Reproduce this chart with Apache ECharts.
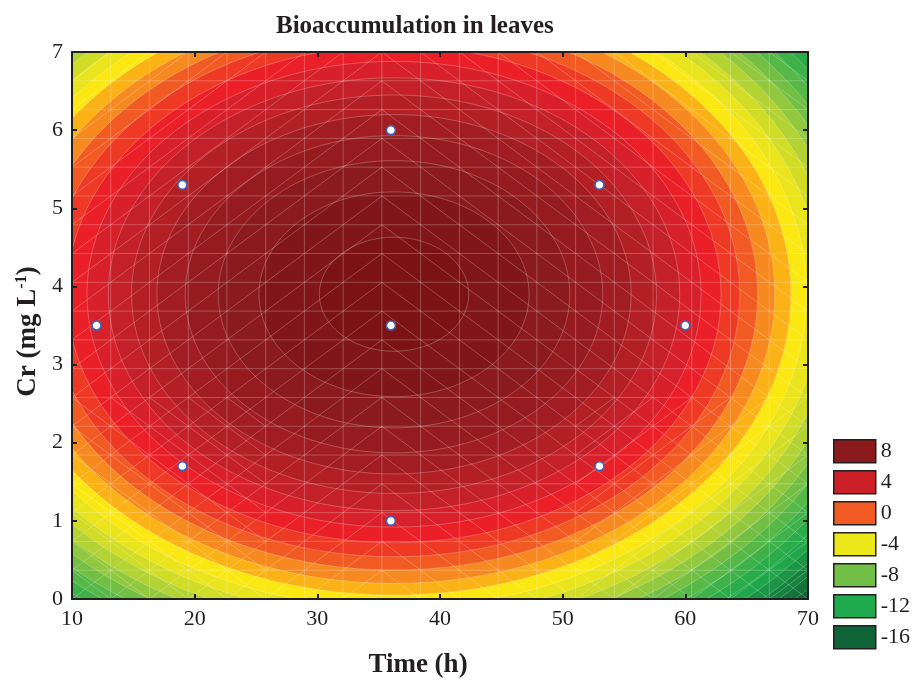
<!DOCTYPE html>
<html><head><meta charset="utf-8">
<script src="https://cdn.jsdelivr.net/npm/echarts/dist/echarts.min.js"></script>
<style>html,body{margin:0;padding:0;background:#fff}#c{width:915px;height:684px}</style>
</head><body><div id="c"></div>
<script>
// ---- data ----
const contourCenter = [36.25, 3.9];            // centre of the fitted surface (Time h, Cr mg/L)
const contourLevels = [-16,-15,-14,-13,-12,-11,-10,-9,-8,-7,-6,-5,-4,-3,-2,-1,0,1,2,3,4,5,6,7,8,9];
const radiusTime = [46.28,45.37,44.42,43.47,42.49,41.49,40.46,39.40,38.32,37.21,36.06,34.87,33.64,32.36,31.04,29.65,28.19,26.66,25.03,23.29,21.40,19.33,17.02,14.33,11.01,6.09];
const radiusCr   = [5.51,5.40,5.29,5.18,5.06,4.94,4.82,4.69,4.56,4.43,4.29,4.15,4.01,3.85,3.70,3.53,3.36,3.18,2.98,2.77,2.55,2.30,2.03,1.71,1.31,0.73];
const designTime = [12,19,19,36,36,36,53,53,60];
const designCr   = [3.5,5.3,1.7,6,3.5,1,5.3,1.7,3.5];
const legendLabels = ['8','4','0','-4','-8','-12','-16'];
const xTickMin = 10, xTickMax = 70, xTickStep = 10;
const yTickMin = 0, yTickMax = 7, yTickStep = 1;

// ---- styling ----
const bandColors = ['#12733B','#168240','#1B9446','#1FA64B','#2BAC4A','#3EB249','#56B847','#72BF44','#92C83E','#B3D233','#D0DC25','#E9E41B','#FBE812','#FBB217','#F6891F','#F15A22','#EE3A24','#EB1F27','#D8202A','#C3202A','#B21F25','#A11D22','#951B1F','#8A1A1E','#81161A','#7B1315'];
const outsideColor = '#0F6437';
const legendColors = ['#8B1A1D','#CB2027','#F15A22','#EBE719','#71BF44','#1EAA4D','#0F6437'];
const serif = '"Liberation Serif","Times New Roman",serif';
const ink = '#231F20';
const meshCells = 19;

const chart = echarts.init(document.getElementById('c'), null, {renderer:'canvas'});

const ellipseData = contourLevels.map((lv,i)=>[contourCenter[0], contourCenter[1], radiusTime[i], radiusCr[i], lv]);

const meshData = [];
for (let i=0;i<meshCells;i++){
  for (let j=0;j<meshCells;j++){
    const x0 = xTickMin + (xTickMax-xTickMin)*i/meshCells, x1 = xTickMin + (xTickMax-xTickMin)*(i+1)/meshCells;
    const y0 = yTickMin + (yTickMax-yTickMin)*j/meshCells, y1 = yTickMin + (yTickMax-yTickMin)*(j+1)/meshCells;
    const xm = (x0+x1)/2, ym=(y0+y1)/2;
    const dir = xm < contourCenter[0] ? 1 : -1;
    const both = (ym < 2.4 && (xm < 25 || xm > 50)) ? 1 : 0;
    meshData.push([x0,y0,x1,y1,dir,both]);
  }
}
const meshStyle = {stroke:'rgba(255,255,255,0.3)', lineWidth:0.8};

function frameAxis(extra){
  return Object.assign({
    type:'value', z:10,
    axisLine:{show:true, onZero:false, lineStyle:{color:ink, width:2}},
    axisTick:{show:true, inside:true, length:5, lineStyle:{color:ink, width:2}},
    splitLine:{show:false},
  }, extra);
}

const legendSeries = legendLabels.map((n,i)=>({name:n, type:'scatter', data:[], itemStyle:{color:legendColors[i], opacity:1}}));

chart.setOption({
  animation:false,
  backgroundColor:'#fff',
  title:{text:'Bioaccumulation in leaves', left:271, top:9,
    textStyle:{fontFamily:serif, fontWeight:'bold', fontSize:25, color:ink}},
  grid:{left:72, right:107, top:52, bottom:84, show:true, backgroundColor:outsideColor, borderWidth:0},
  legend:{
    orient:'vertical', left:828, top:434, itemWidth:42, itemHeight:23, itemGap:6.5,
    selectedMode:false,
    textStyle:{fontFamily:serif, fontSize:22, color:ink, lineHeight:20},
    data: legendLabels.map((n,i)=>({name:n, icon:'rect', itemStyle:{color:legendColors[i], opacity:1, borderColor:ink, borderWidth:1.5}}))
  },
  xAxis:[
    frameAxis({min:xTickMin, max:xTickMax, interval:xTickStep, position:'bottom',
      axisLabel:{fontFamily:serif, fontSize:22, color:ink, margin:9},
      name:'Time (h)', nameLocation:'middle', nameGap:53,
      nameTextStyle:{fontFamily:serif, fontSize:27, fontWeight:'bold', color:ink, padding:[0,44,0,0]}}),
    frameAxis({min:xTickMin, max:xTickMax, interval:xTickStep, position:'top', axisLabel:{show:false}})
  ],
  yAxis:[
    frameAxis({min:yTickMin, max:yTickMax, interval:yTickStep, position:'left',
      axisLabel:{fontFamily:serif, fontSize:22, color:ink, margin:9},
      name:'{b|Cr (mg L}{s|-1}{b|)}', nameLocation:'middle', nameGap:29, nameRotate:90,
      nameTextStyle:{padding:[0,12,0,0], rich:{
        b:{fontFamily:serif, fontSize:27, fontWeight:'bold', color:ink},
        s:{fontFamily:serif, fontSize:16, fontWeight:'bold', color:ink, verticalAlign:'top', padding:[0,0,10,0]}
      }}}),
    frameAxis({min:yTickMin, max:yTickMax, interval:yTickStep, position:'right', axisLabel:{show:false}})
  ],
  series:[
    {
      type:'custom', coordinateSystem:'cartesian2d', clip:true, z:1, silent:true,
      data: ellipseData, encode:{x:0, y:1},
      renderItem:(params, api)=>{
        const c = api.coord([api.value(0), api.value(1)]);
        const s = api.size([api.value(2), api.value(3)]);
        return {type:'ellipse', shape:{cx:c[0], cy:c[1], rx:s[0], ry:s[1]},
          style:{fill:bandColors[params.dataIndex], stroke:'rgba(255,255,255,0.3)', lineWidth:0.8}};
      }
    },
    {
      type:'custom', coordinateSystem:'cartesian2d', clip:true, z:2, silent:true,
      data: meshData, encode:{x:[0,2], y:[1,3]},
      renderItem:(params, api)=>{
        const p00 = api.coord([api.value(0), api.value(1)]);
        const p11 = api.coord([api.value(2), api.value(3)]);
        const p01 = api.coord([api.value(0), api.value(3)]);
        const p10 = api.coord([api.value(2), api.value(1)]);
        const kids = [
          {type:'line', shape:{x1:p01[0],y1:p01[1],x2:p11[0],y2:p11[1]}, style:meshStyle},
          {type:'line', shape:{x1:p00[0],y1:p00[1],x2:p01[0],y2:p01[1]}, style:meshStyle}
        ];
        const dir = api.value(4), both = api.value(5);
        if (dir > 0 || both) kids.push({type:'line', shape:{x1:p00[0],y1:p00[1],x2:p11[0],y2:p11[1]}, style:meshStyle});
        if (dir < 0 || both) kids.push({type:'line', shape:{x1:p01[0],y1:p01[1],x2:p10[0],y2:p10[1]}, style:meshStyle});
        return {type:'group', children:kids};
      }
    },
    {
      type:'scatter', z:5, symbol:'circle', symbolSize:9, silent:true,
      data: designTime.map((t,i)=>[t, designCr[i]]),
      itemStyle:{color:'#fff', borderColor:'#3F62B5', borderWidth:1.6, opacity:1}
    }
  ].concat(legendSeries)
});
</script></body></html>
